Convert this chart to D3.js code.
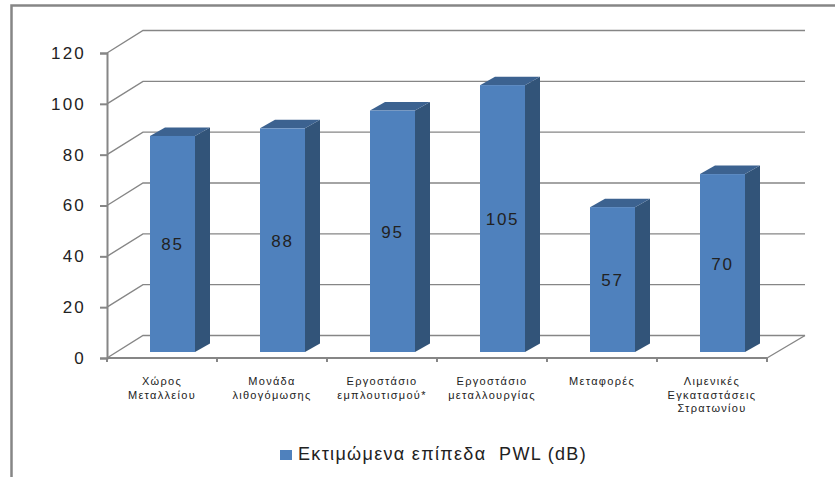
<!DOCTYPE html>
<html><head><meta charset="utf-8">
<script src="https://cdn.jsdelivr.net/npm/d3@7"></script>
<style>html,body{margin:0;padding:0;background:#fff}svg{display:block}text{font-family:"Liberation Sans","DejaVu Sans",sans-serif}</style>
</head><body><svg id="c" width="835" height="477"></svg>
<script>
const categories=[["Χώρος","Μεταλλείου"],["Μονάδα","λιθογόμωσης"],["Εργοστάσιο","εμπλουτισμού*"],["Εργοστάσιο","μεταλλουργίας"],["Μεταφορές"],["Λιμενικές","Εγκαταστάσεις","Στρατωνίου"]];
const values=[85,88,95,105,57,70];
const yTicks=[0,20,40,60,80,100,120];
const seriesName="Εκτιμώμενα επίπεδα  PWL (dB)";
const W=835,H=477;
const svg=d3.select("#c");
const grey="#868686",front="#4f81bd",side="#325479",top_="#3c6290";
// frame
svg.append("path").attr("d",`M${W},5.5H11.5V${H}`).attr("fill","none").attr("stroke",grey).attr("stroke-width",2.5);
const x=d3.scaleBand().domain(d3.range(categories.length)).range([107,767]);
const y=d3.scaleLinear().domain([0,120]).range([358,53]);
const dx=36,dy=-22.5; // 3D wall offset
const g=svg.append("g");
// back wall gridlines with slanted side-wall parts
yTicks.forEach(t=>{
  g.append("path").attr("d",`M107,${y(t)}L${107+dx},${y(t)+dy}H${805}`)
   .attr("fill","none").attr("stroke",grey).attr("stroke-width",1.4);
});
// floor right edge
g.append("path").attr("d",`M767,${y(0)}L805,${y(0)+dy}`).attr("fill","none").attr("stroke",grey).attr("stroke-width",1.4);
// axes
const yAxis=d3.axisLeft(y).tickValues(yTicks).tickSize(7).tickPadding(14);
const ya=svg.append("g").attr("transform","translate(107,0)").call(yAxis);
ya.selectAll("path,line").attr("stroke",grey).attr("stroke-width",2);
ya.selectAll("text").attr("font-size",17).attr("fill","#222").attr("letter-spacing",2.2);
const xa=svg.append("g").attr("transform",`translate(0,${y(0)})`);
xa.append("line").attr("x1",107).attr("x2",767).attr("stroke",grey).attr("stroke-width",2);
xa.selectAll(".t").data(d3.range(categories.length+1)).join("line").attr("class","t")
  .attr("x1",i=>i<categories.length?x(i):767).attr("x2",i=>i<categories.length?x(i):767)
  .attr("y1",0).attr("y2",4).attr("stroke",grey).attr("stroke-width",2);
// bars
const by=d3.scaleLinear().domain([0,120]).range([352,47]);
const bw=45,ox=15,oy=-8.5;
const bars=svg.append("g").selectAll("g").data(values).join("g");
bars.each(function(v,i){
  const s=d3.select(this),l=x(i)+43,t=by(v),b=by(0),r=l+bw;
  s.append("path").attr("d",`M${r},${t}l${ox},${oy}V${b+oy}L${r},${b}Z`).attr("fill",side);
  s.append("path").attr("d",`M${l},${t}l${ox},${oy}h${bw}l${-ox},${-oy}Z`).attr("fill",top_);
  s.append("rect").attr("x",l).attr("y",t).attr("width",bw).attr("height",b-t).attr("fill",front);
  s.append("text").attr("x",l+bw/2).attr("y",(t+b)/2+6.5).attr("text-anchor","middle")
    .attr("font-size",17).attr("letter-spacing",1.7).attr("fill","#222").text(v);
});
// category labels
categories.forEach((c,i)=>{
  const t=svg.append("text").attr("text-anchor","middle").attr("font-size",11).attr("fill","#222").attr("letter-spacing",1.3);
  c.forEach((ln,k)=>t.append("tspan").attr("x",x(i)+x.bandwidth()/2).attr("y",385+k*13.5).text(ln));
});
// legend
svg.append("rect").attr("x",280).attr("y",450).attr("width",12).attr("height",10).attr("fill",front);
svg.append("text").attr("x",298).attr("y",460).attr("font-size",18).attr("letter-spacing",1.32).attr("fill","#222").style("white-space","pre").text(seriesName);
</script></body></html>
